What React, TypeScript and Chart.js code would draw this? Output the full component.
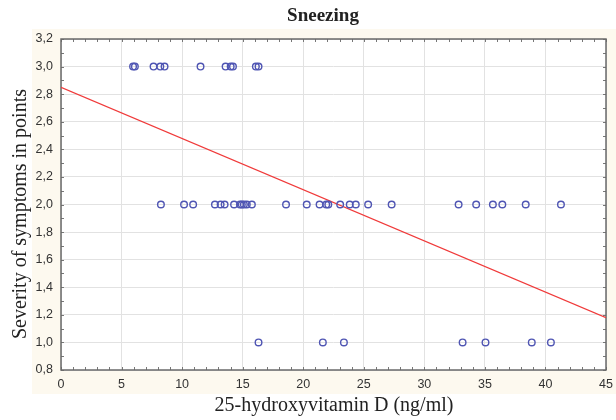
import React, { useEffect, useRef } from "react";
import { Chart, registerables } from "chart.js";

Chart.register(...registerables);

const chartTitle = "Sneezing";
const xTitle = "25-hydroxyvitamin D (ng/ml)";
const yTitle = "Severity of symptoms in points";

// Observed vitamin D values grouped by symptom score
const xAtScore3 = [5.95, 6.1, 7.64, 8.2, 8.55, 11.52, 13.59, 14.01, 14.2, 16.09, 16.31];
const xAtScore2 = [8.25, 10.16, 10.91, 12.71, 13.18, 13.51, 14.29, 14.78, 14.93, 15.1, 15.34, 15.76, 18.58, 20.29, 21.35, 21.9, 22.07, 23.05, 23.84, 24.34, 25.36, 27.3, 32.83, 34.28, 35.66, 36.44, 38.37, 41.28];
const xAtScore1 = [16.31, 21.62, 23.36, 33.16, 35.05, 38.87, 40.45];

// Regression line end points
const fitX = [0, 45];
const fitY = [2.85, 1.18];

const xMin = 0, xMax = 45, xStep = 5;
const yMin = 0.8, yMax = 3.2, yStep = 0.2;

const frame = {
  id: "frame",
  beforeDraw(chart: any) {
    const { ctx, chartArea: a } = chart;
    ctx.save();
    ctx.fillStyle = "#fdf9ef";
    ctx.fillRect(32, 29, 584, 365);
    ctx.fillStyle = "#ffffff";
    ctx.fillRect(a.left, a.top, a.right - a.left, a.bottom - a.top);
    ctx.restore();
  },
  beforeDatasetsDraw(chart: any) {
    const { ctx, chartArea: a, scales } = chart;
    const xs = scales.x, ys = scales.y;
    ctx.save();
    ctx.strokeStyle = "#777777";
    ctx.lineWidth = 1;
    ctx.beginPath();
    for (let v = xMin; v <= xMax; v += 1) {
      const px = Math.round(xs.getPixelForValue(v)) + 0.5;
      ctx.moveTo(px, a.bottom); ctx.lineTo(px, a.bottom - 3);
      ctx.moveTo(px, a.top); ctx.lineTo(px, a.top + 3);
    }
    for (let i = 0; i <= 24; i++) {
      const v = yMin + i * 0.1;
      const py = Math.round(ys.getPixelForValue(v)) + 0.5;
      ctx.moveTo(a.left, py); ctx.lineTo(a.left + 3, py);
      ctx.moveTo(a.right, py); ctx.lineTo(a.right - 3, py);
    }
    ctx.stroke();
    ctx.strokeStyle = "#6a6a6a";
    ctx.lineWidth = 1.5;
    ctx.strokeRect(a.left, a.top, a.right - a.left, a.bottom - a.top);
    ctx.restore();
  },
  afterDraw(chart: any) {
    const { ctx } = chart;
    ctx.save();
    ctx.fillStyle = "#222222";
    ctx.textAlign = "center";
    ctx.textBaseline = "middle";
    ctx.font = "bold 19px 'Liberation Serif', serif";
    ctx.fillText(chartTitle, 323, 16);
    ctx.font = "20px 'Liberation Serif', serif";
    ctx.fillText(xTitle, 334, 406);
    ctx.translate(21, 214);
    ctx.rotate(-Math.PI / 2);
    ctx.fillText(yTitle, 0, 0);
    ctx.restore();
  },
};

const toPts = (xs: number[], y: number) => xs.map((x) => ({ x, y }));

export default function App() {
  const ref = useRef<HTMLCanvasElement>(null);
  useEffect(() => {
    const pointStyle = {
      type: "scatter" as const,
      pointRadius: 3.3,
      pointBorderWidth: 1.4,
      pointBorderColor: "#4f55b3",
      pointBackgroundColor: "rgba(0,0,0,0)",
      showLine: false,
    };
    const chart = new Chart(ref.current!, {
      type: "scatter",
      data: {
        datasets: [
          { ...pointStyle, label: "score 3", data: toPts(xAtScore3, 3) },
          { ...pointStyle, label: "score 2", data: toPts(xAtScore2, 2) },
          { ...pointStyle, label: "score 1", data: toPts(xAtScore1, 1) },
          {
            type: "line",
            label: "fit",
            data: fitX.map((x, i) => ({ x, y: fitY[i] })),
            borderColor: "#f03a3a",
            borderWidth: 1.2,
            pointRadius: 0,
            showLine: true,
            fill: false,
          } as any,
        ],
      },
      options: {
        animation: false,
        responsive: false,
        maintainAspectRatio: false,
        layout: { padding: { top: 39, right: 10, left: 0, bottom: 0 } },
        plugins: { legend: { display: false }, tooltip: { enabled: false }, title: { display: false } },
        scales: {
          x: {
            type: "linear",
            min: xMin,
            max: xMax,
            ticks: {
              stepSize: xStep,
              padding: 7,
              color: "#333333",
              font: { family: "'Liberation Sans', Arial, sans-serif", size: 12.5 },
            },
            grid: { color: "#e2e2e2", drawTicks: false, lineWidth: 1 },
            border: { display: false },
            afterFit: (s: any) => { s.height = 50; s.paddingRight = 0; s.paddingLeft = 0; },
          },
          y: {
            type: "linear",
            min: yMin,
            max: yMax,
            ticks: {
              stepSize: yStep,
              padding: 8,
              color: "#333333",
              font: { family: "'Liberation Sans', Arial, sans-serif", size: 12.5 },
              callback: (v: any) => Number(v).toFixed(1).replace(".", ","),
            },
            grid: { color: "#e2e2e2", drawTicks: false, lineWidth: 1 },
            border: { display: false },
            afterFit: (s: any) => { s.width = 61; s.paddingTop = 0; s.paddingBottom = 0; },
          },
        },
      },
      plugins: [frame],
    });
    return () => chart.destroy();
  }, []);
  return (
    <div style={{ position: "fixed", left: 0, top: 0, width: 616, height: 420, background: "#ffffff" }}>
      <canvas ref={ref} width={616} height={420} style={{ width: 616, height: 420 }} />
    </div>
  );
}
